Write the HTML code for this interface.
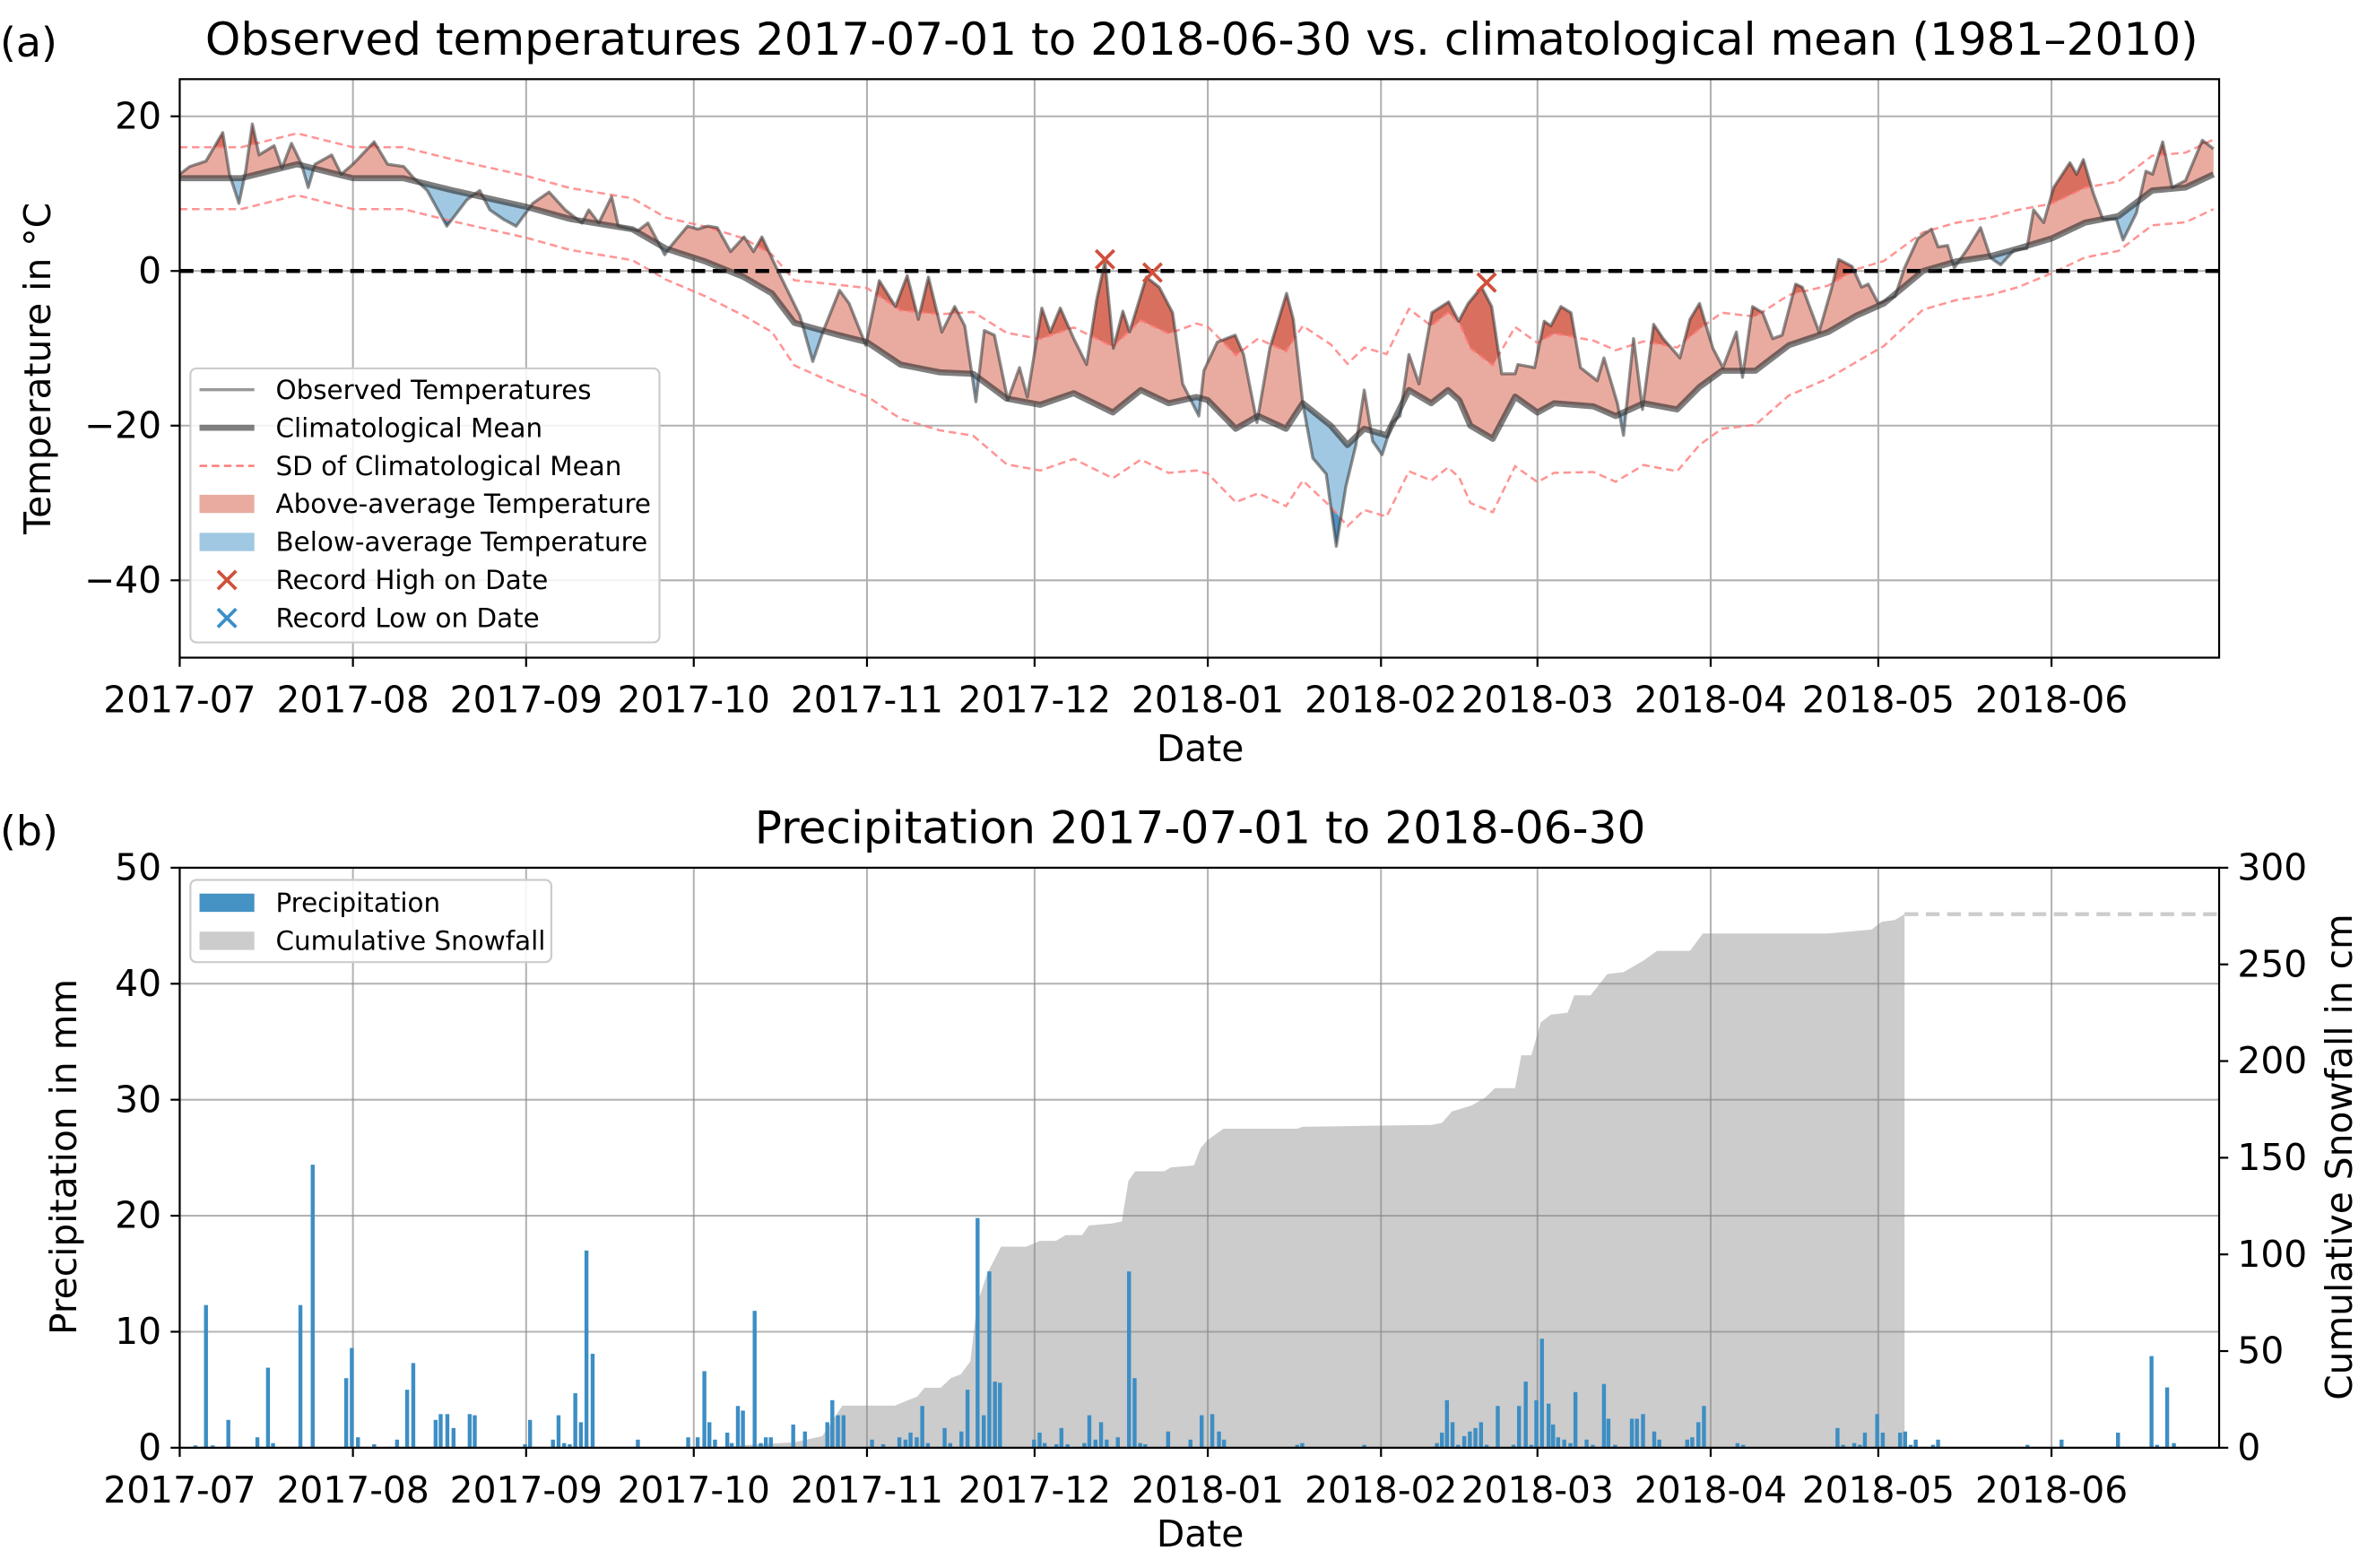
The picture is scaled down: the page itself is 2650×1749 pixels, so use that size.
<!DOCTYPE html>
<html><head><meta charset="utf-8"><style>
html,body{margin:0;padding:0;background:#fff;}
svg{display:block;font-family:"DejaVu Sans","Liberation Sans",sans-serif;}
</style></head><body>
<svg id="fig" width="2650" height="1749" viewBox="0 0 1560 1030" preserveAspectRatio="none" xmlns="http://www.w3.org/2000/svg">
<defs>
<clipPath id="clipTop"><rect x="118" y="52" width="1339" height="380"/></clipPath>
<clipPath id="clipAboveMean"><path id="cam"/></clipPath>
<clipPath id="clipBelowMean"><path id="cbm"/></clipPath>
<clipPath id="clipAboveSD"><path id="cas"/></clipPath>
<clipPath id="clipBelowSD"><path id="cbs"/></clipPath>
</defs>
<g id="topPanel"></g>
<g id="botPanel"></g>
</svg>
<script>
// ---------- temperature data ----------
const obsDays=[0,1.8,4.7,7.7,8.9,10.6,11.8,13,14.2,16.9,18.3,20,21.8,23,24.2,27.2,28.9,31,34.8,37.2,40.1,41.9,44.3,47.8,51.4,53.7,55.5,57.9,60.2,63.2,66.1,69,72,73.2,75,77.3,78.5,82,83.8,86.8,88,90.9,92.7,94.5,96.2,98.6,101,102.7,104.2,106.8,111,113.3,115.1,118.1,119.8,122.8,125.2,128.1,130.2,132.2,134,136.4,138.7,140.5,142.5,144,145.8,148.2,150.3,151.7,154.3,155.8,157.6,160,162.3,164.1,165.6,167.1,168.8,170,173,175.3,177.7,179.5,182.4,183.3,185.7,188.9,190.4,192.8,195.1,198.1,199.3,201,202.8,205.2,207,208.7,210.5,212,213.5,215.2,217,218.4,220,221.8,224.1,227.1,228.9,230.6,233,234.8,236.6,239,239.5,242.5,244.2,245.4,247.2,249,250.7,253.7,254.9,257.3,258.4,260.2,261.8,263.8,265.5,268.5,270.3,272,274.4,276.2,278.6,279.7,281.5,283.3,285.1,286.8,289.2,290.4,293.4,295.7,296.9,299.3,301,302.2,304,307,308.7,311.1,313.5,314.7,316.4,317.6,320,322.3,324.1,325.9,328.3,330.6,331.8,333.6,335.4,338.3,339.5,340.7,342.5,344.2,346.6,347.8,350.2,351.9,353.1,354.9,356.6,359,362,364];
const obsTemp=[12.5,13.5,14.2,17.9,12.5,8.75,12.9,19,15,16.2,13.3,16.5,13.8,10.8,13.8,15,12.5,13.8,16.7,13.8,13.5,12,10.4,5.8,9.2,10.4,7.9,6.7,5.8,8.75,10.2,7.9,6.2,7.9,6.2,9.6,5.8,5.2,6.2,2.1,3.3,5.8,5.4,5.8,5.6,2.5,4.4,2.5,4.4,0.4,-5.8,-11.7,-7.9,-2.5,-4.2,-9.6,-1.25,-4.6,-0.6,-6.25,-0.8,-7.9,-4.6,-7.1,-16.9,-7.7,-8.3,-16.7,-12.5,-16.3,-4.8,-7.9,-4.8,-8.75,-12.1,-3.75,1.25,-10,-5.2,-7.9,-0.8,-2.1,-5.4,-14.6,-18.75,-12.9,-9.2,-8.3,-10.8,-19.6,-10,-2.9,-6.25,-17.1,-24.2,-26.25,-35.6,-27.9,-22.5,-15.4,-22,-23.75,-19.6,-18.75,-10.8,-14.6,-5.4,-4,-6.5,-4.2,-2.1,-4.6,-13.3,-13.3,-12.1,-12.5,-6.5,-7.1,-4.6,-5.4,-12.5,-14.2,-11.25,-17.1,-21.25,-8.75,-17.9,-6.9,-8.75,-11.25,-6.25,-4.2,-10,-12.5,-7.9,-13.75,-4.6,-5.4,-8.75,-8.3,-1.7,-2.1,-7.9,-2.1,1.5,0.6,-2.1,-1.7,-4.2,-3.3,0.4,4.2,5.4,3.1,3.3,0.4,2.9,5.6,1.7,0.8,2.7,2.9,7.9,6.25,10.8,14,12.5,14.4,10,6.7,6.7,4,7.5,12.9,12.5,16.7,10.8,11.7,16.9,15.8];
const meanDays=[0,11,21,31,40,49,62,70,81,87,94,101,106,110,118,123,129,136,142,148,154,160,167,172,177,182,184,189,193,198,201,206,209,212,216,220,224,227,229,231,235,239,243,246,253,257,262,268,272,276,282,288,295,300,305,312,318,324,329,335,341,347,353,359,364];
const meanTemp=[12,12,13.8,12,12,10.4,8.3,6.7,5.4,2.9,1.25,-0.8,-2.9,-6.7,-8.3,-9.2,-12.1,-13.1,-13.3,-16.5,-17.3,-15.8,-18.3,-15.4,-17.1,-16.3,-16.7,-20.4,-18.75,-20.4,-17.1,-20,-22.5,-20.4,-21.25,-15.4,-17.1,-15.4,-16.7,-20,-21.7,-16.25,-18.3,-17.1,-17.5,-18.75,-17.1,-17.9,-15,-12.9,-12.9,-9.6,-7.9,-5.8,-4.2,0,1.25,1.9,2.9,4.2,6.25,7.1,10.4,10.8,12.5];
const sdTemp=[4,4,4,4,4,4,4,4,4,4,4.5,5,5,5.5,6.5,7,7,7.5,8,8.5,8.5,8.5,8.5,9,9,9.5,9.5,9.5,10,10,10,10.5,10.5,10.5,10.5,10.5,10,10,10,10,9.5,9,9,9,8.5,8.5,8,8,7.5,7.5,7,6.5,6,6,5.5,5,5,5,5,4.5,4.5,4.5,4.5,4.5,4.5];
const recordHighDays=[165.6,174.1,233.9];
const recordHighTemp=[1.5,-0.2,-1.5];
const monthLabels=["2017-07","2017-08","2017-09","2017-10","2017-11","2017-12","2018-01","2018-02","2018-03","2018-04","2018-05","2018-06"];
const monthDays=[0,31,62,92,123,153,184,215,243,274,304,335];
const tempTicks=[20,0,-20,-40];
// ---------- precipitation data ----------
const precipDays=[2.8,4.7,5.9,8.7,13.9,15.8,16.7,21.6,23.8,29.8,30.8,31.9,34.8,38.9,40.7,41.8,45.8,46.7,47.9,49,51.9,52.8,61.8,62.7,66.8,67.8,68.8,69.8,70.8,71.8,72.8,73.9,82,91,92.7,93.9,94.8,95.8,98,98.8,99.9,100.8,102.9,104,104.9,105.8,109.8,111.9,115.9,116.8,117.8,118.8,123.9,125.9,128.8,129.9,130.8,131.9,132.9,133.9,136.9,137.9,139.9,141,142.8,143.9,144.9,145.9,146.8,152.9,153.9,154.8,156.9,157.8,158.9,161.9,162.8,163.9,164.9,165.9,167.9,169.9,170.9,171.9,172.8,176.9,180.9,182.9,184.8,186,186.9,200,200.9,212,225,225.9,226.8,227.8,228.8,229.9,230.9,231.9,232.9,233.9,235.9,238.7,239.7,240.9,241.9,242.8,243.8,245,245.8,246.7,247.8,248.9,249.8,251.8,252.9,254.9,255.7,256.9,259.9,260.8,261.9,263.9,264.8,269.8,270.7,271.8,272.8,278.8,279.8,296.7,297.7,299.7,300.7,301.6,303.8,304.8,307.9,308.8,309.8,310.7,313.8,314.7,330.7,336.8,346.9,352.9,353.9,355.7,356.9];
const precipMM=[0.2,12.3,0.2,2.4,0.9,6.9,0.4,12.3,24.4,6.0,8.6,0.9,0.3,0.7,5.0,7.3,2.4,2.9,2.9,1.7,2.9,2.8,0.3,2.4,0.7,2.8,0.4,0.3,4.7,2.2,17.0,8.1,0.7,0.9,0.9,6.6,2.2,0.7,1.3,0.4,3.6,3.2,11.8,0.4,0.9,0.9,2.0,1.4,2.2,4.1,2.8,2.8,0.7,0.3,0.9,0.7,1.3,0.9,3.6,0.4,1.7,0.4,1.4,5.0,19.8,2.8,15.2,5.7,5.6,0.7,1.3,0.4,0.3,1.7,0.3,0.4,2.8,0.7,2.2,0.7,0.9,15.2,6.0,0.4,0.3,1.4,0.7,2.8,2.9,1.4,0.7,0.25,0.4,0.25,0.4,1.3,4.1,2.2,0.25,1.0,1.4,1.7,2.2,0.25,3.6,0.25,3.6,5.7,0.25,4.1,9.4,3.8,2.0,0.9,0.7,0.4,4.8,0.7,0.25,5.5,2.5,0.25,2.5,2.5,2.9,1.4,0.7,0.7,0.9,2.2,3.6,0.4,0.25,1.7,0.25,0.4,0.25,1.3,2.9,1.3,1.3,1.4,0.25,0.7,0.25,0.7,0.25,0.7,1.3,7.9,0.25,5.2,0.4];
const snowDays=[95,101,110,115,118.6,128,132,133.3,136.2,138,139.8,141.5,142.7,144.5,147,151.5,153.9,156.8,158.6,161.5,162.7,166.8,168.6,169.8,171,176.2,177.4,181.5,182.7,183.9,186.8,199.9,201,224.1,225.9,227.7,228.9,231.2,233.6,235.4,239,240.1,241.9,243.6,245.4,248.4,249.6,252.5,255.5,258.4,262,264.4,270.3,272.6,295,302.8,304.6,307,308.7];
const snowCm=[0,1.3,2.8,6,21.8,21.8,26.5,31,31,36,38,44.7,74,90,104,104,107,107,110,110,115,116,117,138,143,143,145,146,155,159,165,165,166,167,168,174,175,177,181,186,186,203,203,220,224,225,234,234,245,246,252,257,257,266,266,268,272,273,276];
const precipTicks=[0,10,20,30,40,50];
const snowTicks=[0,50,100,150,200,250,300];

const NS="http://www.w3.org/2000/svg";
function mk(tag,parent,attrs,text){const e=document.createElementNS(NS,tag);for(const k in attrs)e.setAttribute(k,attrs[k]);if(text!==undefined)e.textContent=text;parent.appendChild(e);return e;}
const X0=118,X1=1457;
const xs=d=>X0+d*(X1-X0)/365;
const yT=v=>178-v*5.08;
const yP=m=>951-m*7.62;
const yS=c=>951-c*1.27;
const topG=document.getElementById('topPanel');
const botG=document.getElementById('botPanel');
const FS=24;
const TFS=29.5;
const LFS=17.3;

const upper=meanTemp.map((m,i)=>m+sdTemp[i]);
const lower=meanTemp.map((m,i)=>m-sdTemp[i]);
function pts(days,vals,fy){return days.map((d,i)=>xs(d).toFixed(2)+','+fy(vals[i]).toFixed(2));}

// ---- Top panel ----
let t=mk('text',topG,{x:0,y:37,'font-size':27},'(a)');

t=mk('text',topG,{x:789,y:36,'font-size':TFS,'text-anchor':'middle'},'Observed temperatures 2017-07-01 to 2018-06-30 vs. climatological mean (1981–2010)');

const gT=mk('g',topG,{});

monthDays.forEach(d=>mk('line',gT,{x1:xs(d),x2:xs(d),y1:52,y2:432,stroke:'#b0b0b0','stroke-width':1.2}));
tempTicks.forEach(v=>mk('line',gT,{x1:X0,x2:X1,y1:yT(v),y2:yT(v),stroke:'#b0b0b0','stroke-width':1.2}));
const meanPts=pts(meanDays,meanTemp,yT);
document.getElementById('cam').setAttribute('d','M'+X0+',0 L'+meanPts.join(' L')+' L'+X1+',0 Z');
document.getElementById('cbm').setAttribute('d','M'+X0+',1030 L'+meanPts.join(' L')+' L'+X1+',1030 Z');
const upPts=pts(meanDays,upper,yT), loPts=pts(meanDays,lower,yT);
document.getElementById('cas').setAttribute('d','M'+X0+',0 L'+upPts.join(' L')+' L'+X1+',0 Z');
document.getElementById('cbs').setAttribute('d','M'+X0+',1030 L'+loPts.join(' L')+' L'+X1+',1030 Z');
const obsPts=pts(obsDays,obsTemp,yT);
const regionD='M'+obsPts.join(' L')+' L'+meanPts.slice().reverse().join(' L')+' Z';
const gPlot=mk('g',topG,{'clip-path':'url(#clipTop)'});

let p=mk('path',mk('g',gPlot,{'clip-path':'url(#clipAboveMean)'}),{d:regionD,fill:'#e9aba0'});

p=mk('path',mk('g',gPlot,{'clip-path':'url(#clipAboveSD)'}),{d:regionD,fill:'#d9705f'});

p=mk('path',mk('g',gPlot,{'clip-path':'url(#clipBelowMean)'}),{d:regionD,fill:'#a0c8e2'});

p=mk('path',mk('g',gPlot,{'clip-path':'url(#clipBelowSD)'}),{d:regionD,fill:'#4f92c2'});

p=mk('polyline',gPlot,{points:upPts.join(' '),fill:'none',stroke:'#ff7a7a','stroke-opacity':0.8,'stroke-width':1.5,'stroke-dasharray':'5,3'});

p=mk('polyline',gPlot,{points:loPts.join(' '),fill:'none',stroke:'#ff7a7a','stroke-opacity':0.8,'stroke-width':1.5,'stroke-dasharray':'5,3'});

p=mk('line',gPlot,{x1:X0,x2:X1,y1:yT(0),y2:yT(0),stroke:'#000','stroke-width':2.6,'stroke-dasharray':'9,5'});

p=mk('polyline',gPlot,{points:meanPts.join(' '),fill:'none',stroke:'#2a2a2a','stroke-opacity':0.6,'stroke-width':4,'stroke-linejoin':'round'});

p=mk('polyline',gPlot,{points:obsPts.join(' '),fill:'none',stroke:'#333','stroke-opacity':0.55,'stroke-width':2,'stroke-linejoin':'round'});

recordHighDays.forEach((d,i)=>{const cx=xs(d),cy=yT(recordHighTemp[i]),r=6;
 const g=mk('g',gPlot,{stroke:'#d0503c','stroke-width':2.2});
 
 
 mk('line',g,{x1:cx-r,y1:cy-r,x2:cx+r,y2:cy+r});mk('line',g,{x1:cx-r,y1:cy+r,x2:cx+r,y2:cy-r});});
p=mk('rect',topG,{x:X0,y:52,width:X1-X0,height:380,fill:'none',stroke:'#000','stroke-width':1.3});

const gyt=mk('g',topG,{});

tempTicks.forEach(v=>{mk('line',gyt,{x1:X0-6,x2:X0,y1:yT(v),y2:yT(v),stroke:'#000','stroke-width':1.3});
 mk('text',gyt,{x:X0-12,y:yT(v)+8,'font-size':FS,'text-anchor':'end'},v<0?'−'+Math.abs(v):String(v));});
t=mk('text',topG,{x:33,y:242,'font-size':FS,'text-anchor':'middle',transform:'rotate(-90 33 242)'},'Temperature in °C');

const gxt=mk('g',topG,{});

monthDays.forEach((d,i)=>{mk('line',gxt,{x1:xs(d),x2:xs(d),y1:432,y2:438,stroke:'#000','stroke-width':1.3});
 mk('text',gxt,{x:xs(d),y:468,'font-size':FS,'text-anchor':'middle'},monthLabels[i]);});
t=mk('text',topG,{x:788,y:500,'font-size':FS,'text-anchor':'middle'},'Date');

const lg=mk('g',topG,{});

mk('rect',lg,{x:125,y:242,width:308,height:180,rx:4,fill:'#fff','fill-opacity':0.85,stroke:'#ccc','stroke-width':1.3});
const LY=[256,281,306,331,356,381,406];
const LT=['Observed Temperatures','Climatological Mean','SD  of Climatological Mean','Above-average Temperature','Below-average Temperature','Record High on Date','Record Low on Date'];
mk('line',lg,{x1:131,x2:167,y1:LY[0],y2:LY[0],stroke:'#555','stroke-opacity':0.6,'stroke-width':2});
mk('line',lg,{x1:131,x2:167,y1:LY[1],y2:LY[1],stroke:'#2a2a2a','stroke-opacity':0.6,'stroke-width':4});
mk('line',lg,{x1:131,x2:167,y1:LY[2],y2:LY[2],stroke:'#ff7a7a','stroke-width':1.5,'stroke-dasharray':'5,3'});
mk('rect',lg,{x:131,y:LY[3]-6,width:36,height:12,fill:'#e9aba0'});
mk('rect',lg,{x:131,y:LY[4]-6,width:36,height:12,fill:'#a0c8e2'});
[[LY[5],'#d0503c'],[LY[6],'#3a8fc8']].forEach(([y,c])=>{const g=mk('g',lg,{stroke:c,'stroke-width':2.2});mk('line',g,{x1:143,y1:y-6,x2:155,y2:y+6});mk('line',g,{x1:143,y1:y+6,x2:155,y2:y-6});});
LT.forEach((s,i)=>{const e=mk('text',lg,{x:181,y:LY[i]+6,'font-size':LFS},s);
 
 });

// ---- Bottom panel ----
t=mk('text',botG,{x:0,y:555,'font-size':27},'(b)');

t=mk('text',botG,{x:788,y:554,'font-size':TFS,'text-anchor':'middle'},'Precipitation 2017-07-01 to 2018-06-30');

const lastI=snowDays.length-1;
let sd='M'+xs(snowDays[0])+','+yS(0)+' L'+pts(snowDays,snowCm,yS).join(' L')+' L'+xs(snowDays[lastI])+','+yS(0)+' Z';
p=mk('path',botG,{d:sd,fill:'#cccccc'});

p=mk('line',botG,{x1:xs(snowDays[lastI]),x2:X1,y1:yS(snowCm[lastI]),y2:yS(snowCm[lastI]),stroke:'#cccccc','stroke-width':2.6,'stroke-dasharray':'9,5'});

const gB=mk('g',botG,{});

monthDays.forEach(d=>mk('line',gB,{x1:xs(d),x2:xs(d),y1:570,y2:951,stroke:'#8a8a8a','stroke-opacity':0.65,'stroke-width':1.2}));
precipTicks.forEach(v=>mk('line',gB,{x1:X0,x2:X1,y1:yP(v),y2:yP(v),stroke:'#8a8a8a','stroke-opacity':0.65,'stroke-width':1.2}));
const gBars=mk('g',botG,{});

precipDays.forEach((d,i)=>{const bw=2.6;const b=mk('rect',gBars,{x:xs(d)-bw/2,y:yP(precipMM[i]),width:bw,height:yP(0)-yP(precipMM[i]),fill:'#3d8ec4'});
 
 });
p=mk('rect',botG,{x:X0,y:570,width:X1-X0,height:381,fill:'none',stroke:'#000','stroke-width':1.3});

const gyl=mk('g',botG,{});

precipTicks.forEach(v=>{mk('line',gyl,{x1:X0-6,x2:X0,y1:yP(v),y2:yP(v),stroke:'#000','stroke-width':1.3});
 mk('text',gyl,{x:X0-12,y:yP(v)+8,'font-size':FS,'text-anchor':'end'},String(v));});
const gyr=mk('g',botG,{});

snowTicks.forEach(v=>{mk('line',gyr,{x1:X1,x2:X1+6,y1:yS(v),y2:yS(v),stroke:'#000','stroke-width':1.3});
 mk('text',gyr,{x:X1+12,y:yS(v)+8,'font-size':FS},String(v));});
t=mk('text',botG,{x:50,y:760,'font-size':FS,'text-anchor':'middle',transform:'rotate(-90 50 760)'},'Precipitation in mm');

t=mk('text',botG,{x:1544,y:760,'font-size':FS,'text-anchor':'middle',transform:'rotate(-90 1544 760)'},'Cumulative Snowfall in cm');

const gxb=mk('g',botG,{});

monthDays.forEach((d,i)=>{mk('line',gxb,{x1:xs(d),x2:xs(d),y1:951,y2:957,stroke:'#000','stroke-width':1.3});
 mk('text',gxb,{x:xs(d),y:987,'font-size':FS,'text-anchor':'middle'},monthLabels[i]);});
t=mk('text',botG,{x:788,y:1016,'font-size':FS,'text-anchor':'middle'},'Date');

const lb=mk('g',botG,{});

mk('rect',lb,{x:125,y:578,width:237,height:54,rx:4,fill:'#fff','fill-opacity':0.85,stroke:'#ccc','stroke-width':1.3});
mk('rect',lb,{x:131,y:587,width:36,height:12,fill:'#4592c4'});
mk('rect',lb,{x:131,y:612,width:36,height:12,fill:'#cccccc'});
t=mk('text',lb,{x:181,y:599,'font-size':LFS},'Precipitation');

t=mk('text',lb,{x:181,y:624,'font-size':LFS},'Cumulative Snowfall');

</script>
</body></html>
